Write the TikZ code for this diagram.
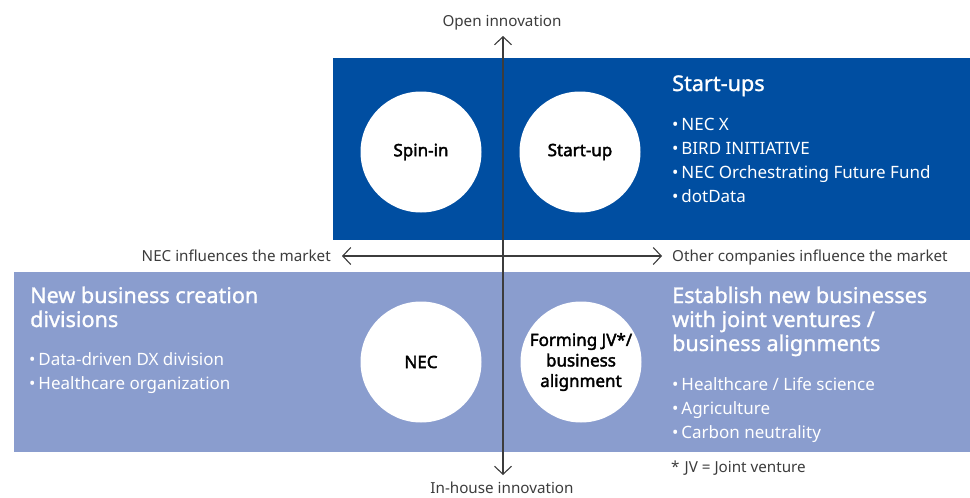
\documentclass[tikz,border=0pt]{standalone}
\usepackage{fontspec}
\setmainfont{Noto Sans}
\newfontfamily\semib[FakeBold=1.2]{Noto Sans}
\newfontfamily\boldish[FakeBold=2.2]{Noto Sans}
\usetikzlibrary{arrows.meta}
\definecolor{darkblue}{HTML}{004EA1}
\definecolor{lightblue}{HTML}{8A9DCE}
\definecolor{labelgray}{HTML}{3C3C3C}
\tikzset{
  disc/.style={circle,fill=white,minimum size=121pt,inner sep=0pt,align=center,
    font=\boldish\fontsize{17}{20.5}\selectfont,text=black},
  title/.style={anchor=base west,inner sep=0pt,text=white,font=\semib\fontsize{21.6}{24}\selectfont},
  item/.style={anchor=base west,inner sep=0pt,text=white,font=\fontsize{17}{24}\selectfont},
  lbl/.style={inner sep=0pt,text=labelgray,font=\fontsize{15.2}{18}\selectfont},
  axis/.style={draw=labelgray,line width=1.1pt,{Straight Barb[length=8pt,width=17pt,line width=1.1pt]}-{Straight Barb[length=8pt,width=17pt,line width=1.1pt]}}
}
\begin{document}
\begin{tikzpicture}[x=1pt,y=-1pt]
\useasboundingbox (0,0) rectangle (970,498);
\fill[darkblue] (333,58) rectangle (970,240);
\fill[lightblue] (14,272) rectangle (970,452);
% circles
\node[disc] (spin) at (421,152) {Spin-in};
\node[disc] (start) at (580,152) {Start-up};
\node[disc] (nec) at (421,362) {NEC};
\node[disc] (jv) at (581,362) {Forming JV*/\\business\\alignment};
% axes
\coordinate (top) at (503,36);
\coordinate (bot) at (503,475);
\coordinate (lft) at (342,256);
\coordinate (rgt) at (662,256);
\draw[axis] (bot) -- (top);
\draw[axis] (lft) -- (rgt);
% axis labels
\node[lbl,anchor=base] (open) at (502,26) {Open innovation};
\node[lbl,anchor=base] (inh) at (502,493.5) {In-house innovation};
\node[lbl,anchor=base east] (necinf) at (331,261) {NEC influences the market};
\node[lbl,anchor=base west] (othinf) at (672,261) {Other companies influence the market};
\node[lbl,anchor=base west] (note) at (671,472) {*\,\,JV = Joint venture};
% start-ups
\node[title] (st) at (672,91) {Start-ups};
\node[item] (s1) at (672,130) {\textbullet\,NEC X};
\node[item] (s2) at (672,154) {\textbullet\,BIRD INITIATIVE};
\node[item] (s3) at (672,178) {\textbullet\,NEC Orchestrating Future Fund};
\node[item] (s4) at (672,202) {\textbullet\,dotData};
% new business creation
\node[title] (nb1) at (30,303) {New business creation};
\node[title] (nb2) at (30,327) {divisions};
\node[item] (n1) at (29,365) {\textbullet\,Data-driven DX division};
\node[item] (n2) at (29,389) {\textbullet\,Healthcare organization};
% establish
\node[title] (e1) at (672,303) {Establish new businesses};
\node[title] (e2) at (672,327) {with joint ventures /};
\node[title] (e3) at (672,351) {business alignments};
\node[item] (b1) at (672,390) {\textbullet\,Healthcare / Life science};
\node[item] (b2) at (672,414) {\textbullet\,Agriculture};
\node[item] (b3) at (672,438) {\textbullet\,Carbon neutrality};
\end{tikzpicture}
\end{document}
